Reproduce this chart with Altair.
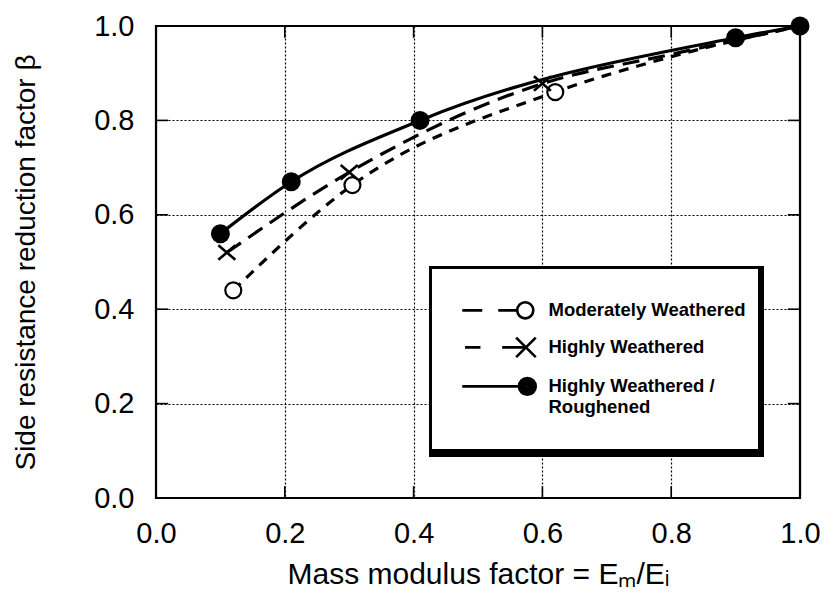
import altair as alt
import pandas as pd

# ---------------- data ----------------
series_names = ["Moderately Weathered", "Highly Weathered", "Highly Weathered / Roughened"]

# Moderately weathered (open circles)
mw_mark_x = [0.12, 0.305, 0.62]
mw_mark_y = [0.44, 0.663, 0.86]
mw_line_x = [0.12, 0.305, 0.62, 0.80, 1.0]
mw_line_y = [0.44, 0.663, 0.86, 0.935, 1.0]

# Highly weathered (crosses)
hw_mark_x = [0.11, 0.30, 0.60]
hw_mark_y = [0.52, 0.69, 0.878]
hw_line_x = [0.11, 0.30, 0.60, 0.80, 1.0]
hw_line_y = [0.52, 0.69, 0.878, 0.94, 1.0]

# Highly weathered / roughened (filled circles)
hwr_mark_x = [0.10, 0.21, 0.41, 0.90, 1.0]
hwr_mark_y = [0.56, 0.67, 0.80, 0.975, 1.0]

tick_values = [0.0, 0.2, 0.4, 0.6, 0.8, 1.0]

x_title = "Mass modulus factor = E\u2098/E\u1d62"
y_title = "Side resistance reduction factor \u03b2"

# ---------------- tables ----------------
lines = pd.concat([
    pd.DataFrame({"x": mw_line_x, "y": mw_line_y, "series": series_names[0]}),
    pd.DataFrame({"x": hw_line_x, "y": hw_line_y, "series": series_names[1]}),
    pd.DataFrame({"x": hwr_mark_x, "y": hwr_mark_y, "series": series_names[2]}),
], ignore_index=True)
marks = pd.concat([
    pd.DataFrame({"x": mw_mark_x, "y": mw_mark_y, "series": series_names[0]}),
    pd.DataFrame({"x": hw_mark_x, "y": hw_mark_y, "series": series_names[1]}),
    pd.DataFrame({"x": hwr_mark_x, "y": hwr_mark_y, "series": series_names[2]}),
], ignore_index=True)
ticks = pd.DataFrame({"t": tick_values[1:-1]})

FONT = "Liberation Sans"
xs = alt.Scale(domain=[0, 1], nice=False, zero=False)
ys = alt.Scale(domain=[0, 1], nice=False, zero=False)

x_axis = alt.Axis(values=tick_values, format=".1f", title=x_title, labelFont=FONT, titleFont=FONT,
                  labelFontSize=29, titleFontSize=30, titleFontWeight="normal", labelColor="black",
                  titleColor="black", ticks=False, domain=False, grid=True, gridColor="black",
                  gridDash=[2, 2], gridWidth=1.2, gridOpacity=1, labelPadding=21, titlePadding=11,
                  labelFlush=False)
y_axis = alt.Axis(values=tick_values, format=".1f", title=y_title, labelFont=FONT, titleFont=FONT,
                  labelFontSize=29, titleFontSize=28, titleFontWeight="normal", labelColor="black",
                  titleColor="black", ticks=False, domain=False, grid=True, gridColor="black",
                  gridDash=[2, 2], gridWidth=1.2, gridOpacity=1, labelPadding=22, titlePadding=53,
                  labelFlush=False)

base_l = alt.Chart(lines)
base_m = alt.Chart(marks)

def line_layer(name, dash):
    kw = dict(color="black", strokeWidth=3.2, interpolate="monotone")
    if dash:
        kw["strokeDash"] = dash
    return base_l.transform_filter(alt.datum.series == name).mark_line(**kw).encode(
        x=alt.X("x:Q", scale=xs, axis=x_axis),
        y=alt.Y("y:Q", scale=ys, axis=y_axis),
        order="x:Q",
    )

l_mw = line_layer(series_names[0], [10, 8])
l_hw = line_layer(series_names[1], [17, 9])
l_hwr = line_layer(series_names[2], None)

p_mw = base_m.transform_filter(alt.datum.series == series_names[0]).mark_point(
    shape="circle", size=256, fill="white", stroke="black", strokeWidth=2.2, opacity=1, fillOpacity=1
).encode(x="x:Q", y="y:Q")
p_hw = base_m.transform_filter(alt.datum.series == series_names[1]).mark_point(
    shape="M-1,-0.85L1,0.85M-1,0.85L1,-0.85", size=289, stroke="black", strokeWidth=2.6, opacity=1
).encode(x="x:Q", y="y:Q")
p_hwr = base_m.transform_filter(alt.datum.series == series_names[2]).mark_point(
    shape="circle", size=361, filled=True, color="black", opacity=1
).encode(x="x:Q", y="y:Q")

# inward tick marks on all four sides
t_bottom = alt.Chart(ticks).mark_rule(color="black", strokeWidth=1.6).encode(
    x="t:Q", y=alt.datum(0), y2=alt.datum(0.025))
t_top = alt.Chart(ticks).mark_rule(color="black", strokeWidth=1.6).encode(
    x="t:Q", y=alt.datum(1), y2=alt.datum(0.975))
t_left = alt.Chart(ticks).mark_rule(color="black", strokeWidth=1.6).encode(
    y="t:Q", x=alt.datum(0), x2=alt.datum(0.019))
t_right = alt.Chart(ticks).mark_rule(color="black", strokeWidth=1.6).encode(
    y="t:Q", x=alt.datum(1), x2=alt.datum(0.981))

# legend symbols combine the line style with the marker (unit = 7 px); stroke only
D = 1.3
def fmt(v):
    return f"{v:.2f}"
y0 = fmt(D)
filled_rings = "".join(
    f"M{fmt(8.3 + r)},{y0}A{r},{r},0,1,1,{fmt(8.3 - r)},{y0}A{r},{r},0,1,1,{fmt(8.3 + r)},{y0}Z"
    for r in (1.2, 0.85, 0.5, 0.15)
)
legend_paths = [
    f"M-1,{y0}L1.86,{y0}M4.14,{y0}L6.85,{y0}"
    f"M9.15,{y0}A1.15,1.15,0,1,1,6.85,{y0}A1.15,1.15,0,1,1,9.15,{y0}Z",
    f"M-0.6,{y0}L1.6,{y0}M4.7,{y0}L8.1,{y0}"
    f"M6.7,{fmt(D - 1.4)}L9.5,{fmt(D + 1.4)}M6.7,{fmt(D + 1.4)}L9.5,{fmt(D - 1.4)}",
    f"M-1,{y0}L7.1,{y0}" + filled_rings,
]
leg = alt.Legend(
    title="\u00a0", titleFontSize=12, titlePadding=0, orient="none", legendX=275, legendY=242,
    labelFont=FONT, labelFontSize=18.5, labelFontWeight="bold", labelColor="black", labelLimit=400,
    labelBaseline="top",
    labelExpr="datum.label == 'Highly Weathered / Roughened' ? ['Highly Weathered /', 'Roughened', ''] : datum.label",
    labelOffset=70, symbolSize=196, symbolStrokeColor="black",
    symbolStrokeWidth=2.6, symbolOpacity=1,
    symbolOffset=17, strokeColor="black", fillColor="white", padding=12, rowPadding=5,
)
legend_layer = base_m.transform_filter("false").mark_point(
    filled=False, color="black", strokeWidth=2.6, opacity=1
).encode(
    shape=alt.Shape("series:N", scale=alt.Scale(domain=series_names, range=legend_paths), legend=leg),
)

# heavy frame edge and drop shadow behind the legend box
shadow = alt.Chart(ticks.head(1)).mark_rect(color="black").encode(
    x=alt.value(273), x2=alt.value(608), y=alt.value(240), y2=alt.value(431))

chart = alt.layer(
    l_mw, l_hw, l_hwr, t_bottom, t_top, t_left, t_right, p_mw, p_hw, p_hwr, shadow, legend_layer
).properties(
    width=644, height=472,
    autosize=alt.AutoSizeParams(type="none"),
    padding={"left": 156, "top": 26, "right": 33, "bottom": 107},
    background="white",
).configure_view(stroke="black", strokeWidth=2.2)

chart.save("out.html", embed_options={"renderer": "svg", "actions": False})
